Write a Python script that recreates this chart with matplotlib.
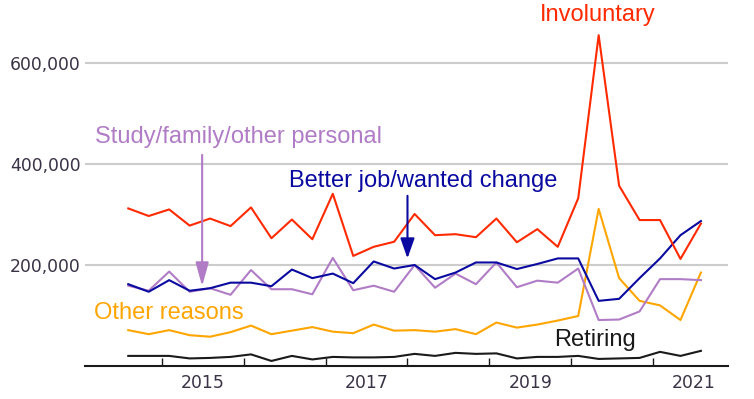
import matplotlib

matplotlib.use("Agg")
import matplotlib.pyplot as plt
import numpy as np

# Quarterly data, 2014 Q1 .. 2021 Q1 (people leaving jobs, by reason)
START_YEAR = 2014.087
QUARTERS = 29

INVOLUNTARY = [312, 297, 310, 278, 292, 277, 314, 253, 290, 251, 341, 218, 236, 246, 301,
               259, 261, 255, 292, 245, 271, 236, 332, 655, 357, 289, 289, 212, 282]
BETTER_JOB = [162, 147, 170, 149, 154, 165, 165, 158, 191, 174, 183, 164, 207, 193, 200,
              172, 185, 205, 205, 192, 202, 213, 213, 129, 133, 174, 213, 259, 287]
STUDY_FAMILY = [159, 149, 187, 147, 154, 141, 190, 152, 152, 142, 214, 150, 159, 147, 200,
                155, 183, 162, 205, 156, 169, 165, 193, 91, 92, 108, 172, 172, 170]
OTHER_REASONS = [71, 63, 71, 61, 58, 67, 80, 63, 70, 77, 68, 65, 82, 70, 71,
                 68, 73, 63, 86, 76, 82, 90, 99, 311, 174, 129, 120, 91, 185]
RETIRING = [20, 20, 20, 15, 16, 18, 23, 10, 20, 13, 18, 17, 17, 18, 24,
            20, 26, 24, 25, 15, 18, 18, 20, 14, 15, 16, 28, 20, 30]

YEAR_LABELS = [2015, 2017, 2019, 2021]
Y_TICKS = [200000, 400000, 600000]

RED = "#ff2a00"
BLUE = "#0a0aa0"
PURPLE = "#b07cc6"
ORANGE = "#ffa500"
BLACK = "#1a1a1a"
LABEL_FONT = ["Liberation Sans", "DejaVu Sans"]

x = START_YEAR + 0.25 * np.arange(QUARTERS)

fig = plt.figure(figsize=(7.54, 3.99), dpi=100)
ax = fig.add_axes([85 / 754, 33 / 399, 643 / 754, 366 / 399])

for vals, col in [(RETIRING, BLACK), (OTHER_REASONS, ORANGE), (STUDY_FAMILY, PURPLE),
                  (BETTER_JOB, BLUE), (INVOLUNTARY, RED)]:
    ax.plot(x, np.array(vals) * 1000, color=col, linewidth=1.5, zorder=3)

ax.set_xlim(2013.558, 2021.418)
ax.set_ylim(0, 724700)

# gridlines & axes
for y in Y_TICKS:
    ax.axhline(y, color="#cccccc", linewidth=1.5, zorder=1)
ax.set_yticks(Y_TICKS)
ax.set_yticklabels([f"{v:,}" for v in Y_TICKS], fontsize=12.4, color="#3a3346")
ax.tick_params(axis="y", length=0, pad=3)

ax.set_xticks(np.arange(2014.5, 2021, 1.0))
ax.set_xticklabels([])
ax.tick_params(axis="x", which="major", direction="in", length=6, width=1, color=BLACK)
ax.set_xticks(YEAR_LABELS, minor=True)
ax.set_xticklabels([str(y) for y in YEAR_LABELS], minor=True, fontsize=12.4, color="#3a3346")
ax.tick_params(axis="x", which="minor", length=0, pad=6)

for side in ["top", "right", "left"]:
    ax.spines[side].set_visible(False)
ax.spines["bottom"].set_color(BLACK)
ax.spines["bottom"].set_linewidth(1.5)

# series labels
ax.text(2019.83, 695000, "Involuntary", color=RED, fontsize=17, family=LABEL_FONT,
        ha="center", va="center")
ax.text(2015.44, 453000, "Study/family/other personal", color=PURPLE, fontsize=17,
        family=LABEL_FONT, ha="center", va="center")
ax.text(2017.69, 366000, "Better job/wanted change", color=BLUE, fontsize=17,
        family=LABEL_FONT, ha="center", va="center")
ax.text(2014.585, 105000, "Other reasons", color=ORANGE, fontsize=17,
        family=LABEL_FONT, ha="center", va="center")
ax.text(2019.79, 51000, "Retiring", color=BLACK, fontsize=17,
        family=LABEL_FONT, ha="center", va="center")

# arrows
ax.annotate("", xy=(2014.99, 158000), xytext=(2014.99, 418000),
            arrowprops=dict(arrowstyle="-|>,head_length=1.44,head_width=0.4",
                            color=PURPLE, lw=1.5, shrinkA=0, shrinkB=0), zorder=4)
ax.annotate("", xy=(2017.50, 213000), xytext=(2017.50, 337000),
            arrowprops=dict(arrowstyle="-|>,head_length=1.22,head_width=0.43",
                            color=BLUE, lw=1.5, shrinkA=0, shrinkB=0), zorder=4)

fig.savefig("out.png", dpi=100)
